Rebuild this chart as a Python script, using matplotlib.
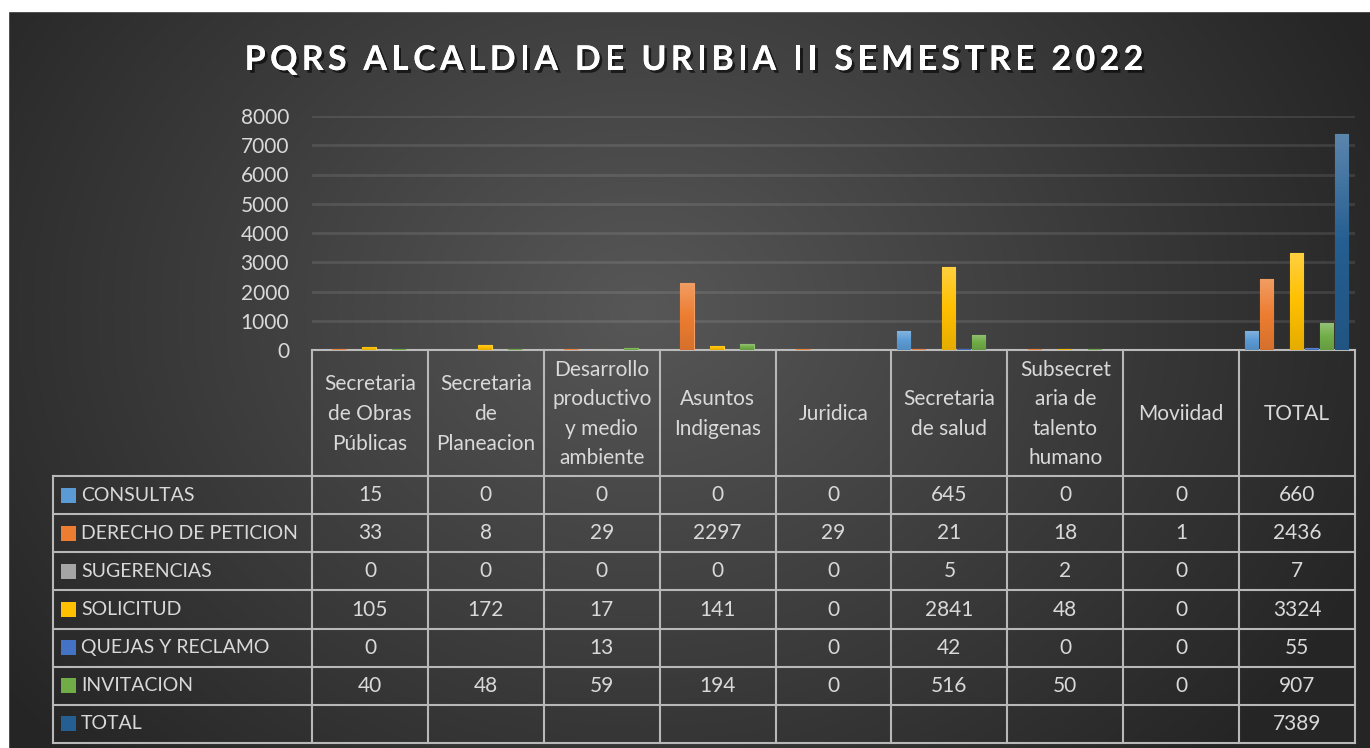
import numpy as np
import matplotlib
matplotlib.use('Agg')
import matplotlib.pyplot as plt
import matplotlib.patheffects as pe
import matplotlib.colors as mcolors
from matplotlib.patches import Rectangle

plt.rcParams['font.family'] = ['Lato', 'DejaVu Sans']

# data
title = 'PQRS ALCALDIA DE URIBIA II SEMESTRE 2022'
categories = ['Secretaria\nde Obras\nPúblicas', 'Secretaria\nde\nPlaneacion',
              'Desarrollo\nproductivo\ny medio\nambiente', 'Asuntos\nIndigenas',
              'Juridica', 'Secretaria\nde salud', 'Subsecret\naria de\ntalento\nhumano',
              'Moviidad', 'TOTAL']
series_names = ['CONSULTAS', 'DERECHO DE PETICION', 'SUGERENCIAS', 'SOLICITUD',
                'QUEJAS Y RECLAMO', 'INVITACION', 'TOTAL']
consultas = [15, 0, 0, 0, 0, 645, 0, 0, 660]
derecho = [33, 8, 29, 2297, 29, 21, 18, 1, 2436]
sugerencias = [0, 0, 0, 0, 0, 5, 2, 0, 7]
solicitud = [105, 172, 17, 141, 0, 2841, 48, 0, 3324]
quejas = [0, None, 13, None, 0, 42, 0, 0, 55]
invitacion = [40, 48, 59, 194, 0, 516, 50, 0, 907]
total = [None, None, None, None, None, None, None, None, 7389]
series = [consultas, derecho, sugerencias, solicitud, quejas, invitacion, total]
colors = ['#5B9BD5', '#ED7D31', '#A5A5A5', '#FFC000', '#4472C4', '#70AD47', '#255E91']
yticks = [0, 1000, 2000, 3000, 4000, 5000, 6000, 7000, 8000]

W, H = 1370, 748
fig = plt.figure(figsize=(13.7, 7.48), dpi=100)

# background with radial gradient
bg = fig.add_axes([0, 0, 1, 1])
bg.set_xlim(0, W)
bg.set_ylim(H, 0)
bg.axis('off')
yy, xx = np.mgrid[0:H:2, 0:W:2]
r = np.hypot((xx - 640) / 800.0, (yy - 310) / 650.0)
t = np.clip(r, 0, 1)
c0 = np.array([0x57, 0x57, 0x57]) / 255
c1 = np.array([0x25, 0x25, 0x25]) / 255
img = c0 + (c1 - c0) * t[..., None]
bg.imshow(img, extent=[0, W, H, 0], aspect='auto', zorder=0)
bg.add_patch(Rectangle((0, 0), W, 11, color='white', zorder=1))
bg.add_patch(Rectangle((0, 0), 8, H, color='white', zorder=1))

# title, letter spaced
renderer = fig.canvas.get_renderer()
tkw = dict(fontsize=24.5, fontweight='bold', color='white')
def char_w(ch):
    if ch == ' ':
        a = bg.text(0, 0, 'A A', **tkw); b = bg.text(0, 0, 'AA', **tkw)
        w = a.get_window_extent(renderer).width - b.get_window_extent(renderer).width
        a.remove(); b.remove()
        return w
    tt = bg.text(0, 0, ch, **tkw)
    w = tt.get_window_extent(renderer).width
    tt.remove()
    return w
track = 4.3
widths = [char_w(c) for c in title]
tot = sum(widths) + track * (len(title) - 1)
xpos = 694 - tot / 2
shadow = [pe.withSimplePatchShadow(offset=(2, -2), shadow_rgbFace='black', alpha=0.6), pe.Normal()]
for ch, w in zip(title, widths):
    if ch != ' ':
        bg.text(xpos, 60, ch, ha='left', va='center', path_effects=shadow, zorder=5, **tkw)
    xpos += w + track

# chart area
x0, x1, ytop, ybot = 312, 1355, 116, 350
ax = fig.add_axes([x0 / W, 1 - ybot / H, (x1 - x0) / W, (ybot - ytop) / H])
ax.patch.set_alpha(0)
for s in ax.spines.values():
    s.set_visible(False)
ax.set_yticks(yticks)
ax.set_yticklabels([str(v) for v in yticks])
ax.tick_params(axis='y', length=0, pad=16.5, labelsize=15, labelcolor='#d9d9d9')
ax.set_xticks([])
ax.yaxis.grid(True, color='white', alpha=0.1, lw=2)
ax.set_axisbelow(True)

gw = 116.0
bw = 13.5 / gw
slot = 15.0 / gw
start = 5.5 / gw
idx = np.arange(len(categories))
for k, (vals, col) in enumerate(zip(series, colors)):
    v = np.array([np.nan if a is None else a for a in vals], dtype=float)
    base = np.array(mcolors.to_rgb(col))
    top = base + (1 - base) * 0.25
    bot = base * 0.9
    cmap = mcolors.LinearSegmentedColormap.from_list('g%d' % k, [bot, base, top])
    bars = ax.bar(idx + start + k * slot, v, width=bw, align='edge',
                  facecolor='none', edgecolor=top, linewidth=[0.8 if (a or 0) > 0 else 0 for a in vals], zorder=2)
    for b, val in zip(bars, v):
        if np.isnan(val) or val <= 0:
            continue
        im = ax.imshow(np.linspace(0, 1, 64)[:, None], cmap=cmap, aspect='auto', origin='lower',
                       extent=[b.get_x(), b.get_x() + b.get_width(), 0, val], zorder=2)
        im.set_clip_path(b)
ax.set_xlim(0, len(categories))
ax.set_ylim(0, 8000)

# data table
lc = '#b8b8b8'
cx = x0 + (x1 - x0) / 9.0 * np.arange(10)
ry = 476 + (743 - 476) / 7.0 * np.arange(8)
bg.plot([x0, x1], [ybot, ybot], color=lc, lw=1.5, zorder=3)
for y in ry:
    bg.plot([53, x1], [y, y], color=lc, lw=1.5, zorder=3)
bg.plot([53, 53], [ry[0], ry[-1]], color=lc, lw=1.5, zorder=3)
for x in cx:
    bg.plot([x, x], [ybot, ry[-1]], color=lc, lw=1.5, zorder=3)

tc = '#d9d9d9'
for i, cat in enumerate(categories):
    bg.text((cx[i] + cx[i + 1]) / 2, (ybot + ry[0]) / 2 + 1, cat, ha='center', va='center',
            fontsize=15, color=tc, linespacing=1.6, zorder=4)
for j, (name, vals, col) in enumerate(zip(series_names, series, colors)):
    ym = (ry[j] + ry[j + 1]) / 2
    bg.add_patch(Rectangle((61, ym - 7.5), 15, 15, facecolor=col, zorder=4))
    bg.text(81, ym, name, ha='left', va='center', fontsize=14, color=tc, zorder=4)
    for i, v in enumerate(vals):
        if v is not None:
            bg.text((cx[i] + cx[i + 1]) / 2, ym, str(v), ha='center', va='center',
                    fontsize=15, color=tc, zorder=4)

fig.savefig('out.png', dpi=100)
